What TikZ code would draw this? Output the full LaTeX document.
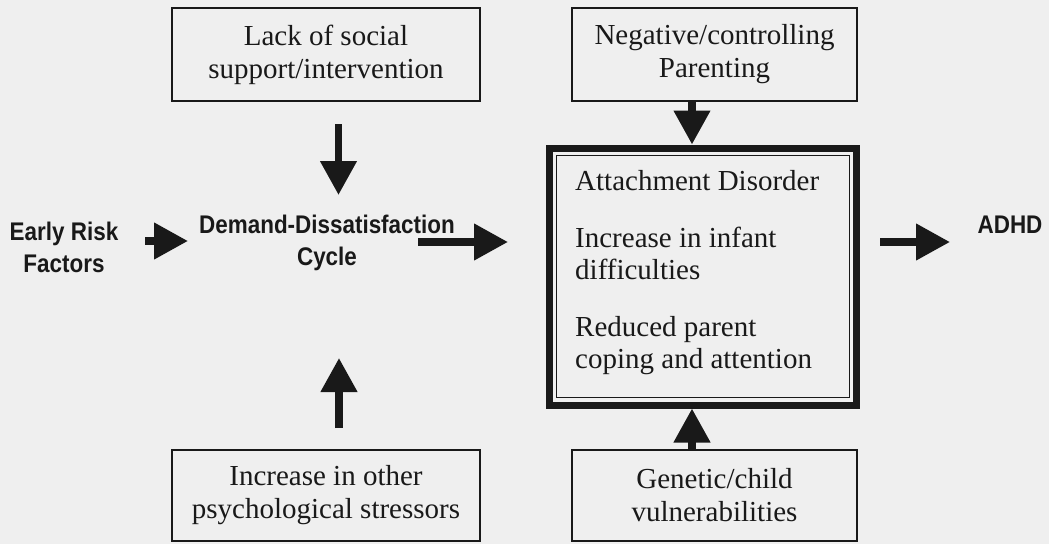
\documentclass[tikz,border=0pt]{standalone}
\usepackage{fontspec}
\setmainfont{Liberation Serif}
\newfontfamily\arialn[FakeStretch=0.88]{Liberation Sans}
\usetikzlibrary{arrows.meta}
\definecolor{bg}{RGB}{239,239,239}
\definecolor{ink}{RGB}{25,25,25}
\begin{document}
\begin{tikzpicture}[x=1pt,y=-1pt,
  box/.style={draw=ink, line width=1.6pt, minimum width=308pt, minimum height=93pt, inner sep=0pt, align=center, text=ink, font=\fontsize{29}{33}\selectfont},
  lbl/.style={align=center, text=ink, font=\arialn\bfseries\fontsize{25.5}{31.5}\selectfont, inner sep=0pt},
  blk/.style={draw=ink, line width=7.5pt, -{Triangle[length=34pt,width=35pt]}},
]
\fill[bg] (0,0) rectangle (1049,544);
\useasboundingbox (0,0) rectangle (1049,544);

% boxes
\node[box] (lack) at (326,54.5) {Lack of social\\support/intervention};
\node[box, minimum width=285pt] (parent) at (714.5,54.5) {Negative/controlling\\Parenting};
\node[box, minimum height=91pt] (stress) at (326,495.5) {Increase in other\\psychological stressors};
\node[box, minimum width=285pt, minimum height=91pt] (genetic) at (714.5,495.5) {Genetic/child\\vulnerabilities};

% central double box
\node[draw=ink, line width=7pt, minimum width=307pt, minimum height=257pt, inner sep=0pt] (att) at (702.5,276.5) {};
\draw[ink, line width=1.5pt] ([shift={(11,11)}]att.north west) rectangle ([shift={(-10,-11)}]att.south east);
\node[anchor=base west, align=left, text=ink, font=\fontsize{29}{32}\selectfont, inner sep=0pt] (atttext) at (575,368)
  {Attachment Disorder\\[25pt]Increase in infant\\difficulties\\[25pt]Reduced parent\\coping and attention};

% labels
\node[lbl, anchor=base] (erf) at (64,272) {Early Risk\\Factors};
\node[lbl, anchor=base] (dds) at (327,265) {Demand-Dissatisfaction\\Cycle};
\node[lbl, anchor=base] (adhd) at (1010,233) {ADHD};

% arrow end points
\coordinate (e1s) at (145,241);
\coordinate (e1e) at (188,241);
\coordinate (e2s) at (418,242);
\coordinate (e2e) at (508,242);
\coordinate (e3s) at (880,242);
\coordinate (e3e) at (950,242);
\coordinate (e4s) at (338.5,124);
\coordinate (e4e) at (338.5,195);
\coordinate (e5s) at (339,428);
\coordinate (e5e) at (339,358);

\draw[blk] (e1s) -- (e1e);
\draw[blk] (e2s) -- (e2e);
\draw[blk] (e3s) -- (e3e);
\draw[blk] (e4s) -- (e4e);
\draw[blk] (e5s) -- (e5e);
\draw[blk] ([xshift=-22.5pt]parent.south) -- ([xshift=-10.5pt]att.north);
\draw[blk] ([xshift=-22.5pt]genetic.north) -- ([xshift=-10.5pt]att.south);
\end{tikzpicture}
\end{document}
